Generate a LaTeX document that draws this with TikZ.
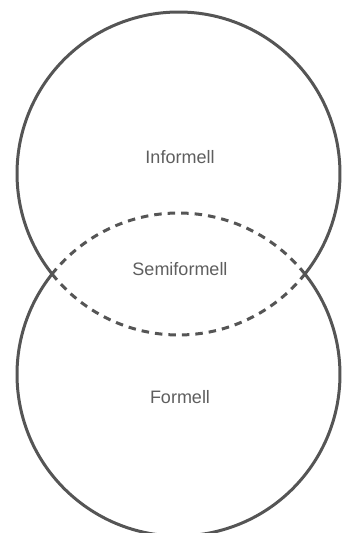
\documentclass[tikz,border=0pt]{standalone}
\usepackage{fontspec}
\setmainfont{Liberation Sans}
\definecolor{linegray}{HTML}{555555}
\definecolor{textgray}{HTML}{5E5E5E}
\tikzset{
  outline/.style={draw=linegray, line width=3pt},
  dashline/.style={draw=linegray, line width=3pt, dash pattern=on 7.5pt off 6pt},
  label/.style={text=textgray, font=\fontsize{18}{20}\selectfont, inner sep=0pt}
}
\begin{document}
\begin{tikzpicture}[x=1pt,y=1pt]
\useasboundingbox (0,0) rectangle (342,533);
\coordinate (ctop) at (178.5,359.5);
\coordinate (cbot) at (178.5,158.5);
% upper circle
\draw[outline] (ctop) ++(-38.5:161.5) arc[start angle=-38.5, end angle=218.5, radius=161.5];
\draw[dashline] (ctop) ++(218.5:161.5) arc[start angle=218.5, end angle=321.5, radius=161.5];
% lower circle
\draw[outline] (cbot) ++(141.5:161.5) arc[start angle=141.5, end angle=398.5, radius=161.5];
\draw[dashline] (cbot) ++(38.5:161.5) arc[start angle=38.5, end angle=141.5, radius=161.5];
% labels
\node[label] (inf) at (180,376) {Informell};
\node[label] (semi) at (180,264) {Semiformell};
\node[label] (form) at (180,136) {Formell};
\end{tikzpicture}
\end{document}
